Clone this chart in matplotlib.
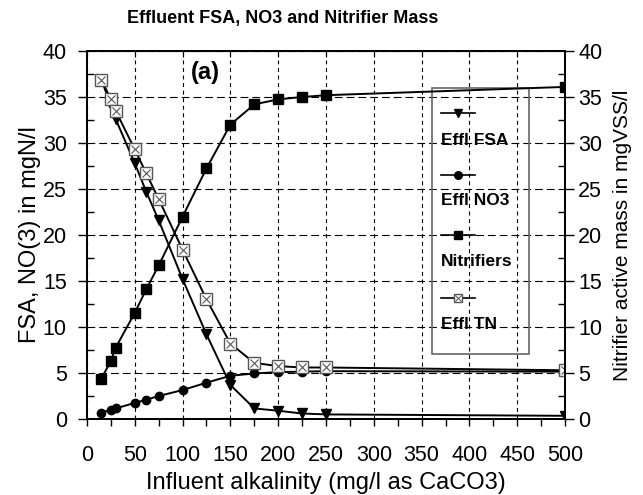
import matplotlib
matplotlib.use('Agg')
import matplotlib.pyplot as plt
from matplotlib.patches import Rectangle
from matplotlib.ticker import MultipleLocator

plt.rcParams['font.family'] = ['Liberation Sans', 'DejaVu Sans']

# influent alkalinity (mg/l as CaCO3)
alk = [15, 25, 30, 50, 62, 75, 100, 125, 150, 175, 200, 225, 250, 500]
# effluent values in mgN/l
effl_fsa = [36.9, 34.1, 32.6, 27.8, 24.7, 21.6, 15.2, 9.2, 3.7, 1.15, 0.9, 0.6, 0.5, 0.35]
effl_no3 = [0.7, 1.0, 1.15, 1.75, 2.1, 2.5, 3.15, 3.95, 4.7, 4.95, 5.1, 5.15, 5.2, 5.15]
effl_tn = [36.9, 34.75, 33.5, 29.3, 26.7, 23.9, 18.4, 13.0, 8.2, 6.1, 5.75, 5.6, 5.6, 5.3]
# nitrifier active mass in mgVSS/l
nitrifiers = [4.4, 6.3, 7.75, 11.55, 14.1, 16.7, 22.0, 27.25, 32.0, 34.2, 34.75, 35.0, 35.2, 36.1]

fig = plt.figure(figsize=(6.43, 4.95), dpi=100)
ax = fig.add_axes([0.1353, 0.1535, 0.7434, 0.7434])

ax.plot(alk, effl_fsa, color='black', lw=1.4, marker='v', ms=6.5, mfc='black', mec='black')
ax.plot(alk, effl_no3, color='black', lw=1.4, marker='o', ms=6, mfc='black', mec='black')
ax.plot(alk, effl_tn, color='black', lw=1.4, marker='s', ms=8, mfc='white', mec='#555555', mew=1.0)
ax.plot(alk, effl_tn, ls='none', marker='x', ms=5.5, mec='#555555', mew=0.8)

ax2 = ax.twinx()
ax2.plot(alk, nitrifiers, color='black', lw=1.4, marker='s', ms=6.5, mfc='black', mec='black')

for a in (ax, ax2):
    a.set_xlim(0, 500)
    a.set_ylim(0, 40)
    a.yaxis.set_major_locator(MultipleLocator(5))
    a.yaxis.set_minor_locator(MultipleLocator(2.5))
    for s in a.spines.values():
        s.set_linewidth(1.3)

ax.xaxis.set_major_locator(MultipleLocator(50))
ax.xaxis.set_minor_locator(MultipleLocator(25))
ax.tick_params(axis='x', which='both', direction='out', length=5, width=1, labelsize=15.5, pad=14)
ax.tick_params(axis='y', which='major', direction='out', length=6.5, width=1, labelsize=15.5, pad=8)
ax.tick_params(axis='y', which='minor', direction='in', length=5, width=1)
ax2.tick_params(axis='y', which='major', direction='out', length=6.5, width=1, labelsize=15.5, pad=3)
ax2.tick_params(axis='y', which='minor', direction='in', length=5, width=1)

top = ax.secondary_xaxis('top')
top.xaxis.set_major_locator(MultipleLocator(50))
top.tick_params(direction='in', length=4, labeltop=False)

ax.xaxis.grid(True, which='major', color='black', lw=0.8, ls=(0, (3.6, 3.2)))
ax.yaxis.grid(True, which='major', color='black', lw=0.8, ls=(0, (7, 3.6)))
ax.set_axisbelow(True)

ax.set_xlabel('Influent alkalinity (mg/l as CaCO3)', fontsize=17, labelpad=4)
ax.set_ylabel('FSA, NO(3) in mgN/l', fontsize=17, labelpad=1)
ax2.set_ylabel('Nitrifier active mass in mgVSS/l', fontsize=15, labelpad=8)
fig.suptitle('Effluent FSA, NO3 and Nitrifier Mass', fontsize=13, fontweight='bold',
             x=0.44, y=0.98)

ax.text(0.247, 0.943, '(a)', transform=ax.transAxes, fontsize=17, fontweight='bold',
        ha='center', va='center')

# legend drawn by hand: marker line above, label below
ax2.add_patch(Rectangle((0.722, 0.177), 0.203, 0.722, transform=ax2.transAxes,
                        fill=False, ec='#666666', lw=1.2))
entries = [
    ('Effl FSA', dict(marker='v', ms=6, mfc='black', mec='black')),
    ('Effl NO3', dict(marker='o', ms=5.5, mfc='black', mec='black')),
    ('Nitrifiers', dict(marker='s', ms=5.5, mfc='black', mec='black')),
    ('Effl TN', dict(marker='s', ms=6, mfc='white', mec='#555555')),
]
line_y = [0.832, 0.663, 0.500, 0.329]
text_y = [0.758, 0.595, 0.427, 0.258]
for (label, mk), ly, ty in zip(entries, line_y, text_y):
    ax2.plot([0.741, 0.812], [ly, ly], transform=ax2.transAxes, color='black', lw=1.2)
    ax2.plot([0.7765], [ly], transform=ax2.transAxes, ls='none', **mk)
    ax2.text(0.741, ty, label, transform=ax2.transAxes, fontsize=12.5, fontweight='bold',
             ha='left', va='center')
ax2.plot([0.7765], [line_y[3]], transform=ax2.transAxes, ls='none', marker='x', ms=4,
         mec='#555555', mew=0.7)

fig.savefig('out.png', dpi=100)
